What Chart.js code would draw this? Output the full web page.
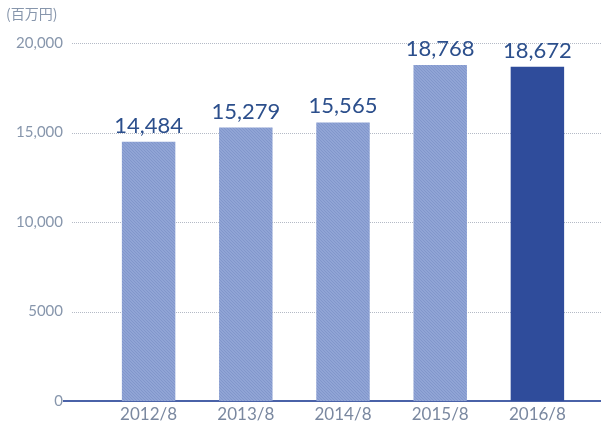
<!DOCTYPE html>
<html>
<head>
<meta charset="utf-8">
<script src="https://cdn.jsdelivr.net/npm/chart.js@4"></script>
<style>
  body { margin: 0; background: #fff; }
  #wrap { position: relative; width: 601px; height: 431px; }
  #unit { position: absolute; left: 6px; top: 3px; font: 14px "Noto Sans CJK JP", sans-serif; color: #8796ac; }
</style>
</head>
<body>
<div id="wrap">
  <canvas id="chart1" width="601" height="431"></canvas>
  <div id="unit">(百万円)</div>
</div>
<script>
var categories = ['2012/8', '2013/8', '2014/8', '2015/8', '2016/8'];
var sales = [14484, 15279, 15565, 18768, 18672];
var yTicks = [0, 5000, 10000, 15000, 20000];

// light hatched fill for the past years
function makePattern() {
    var c = document.createElement('canvas');
    c.width = 3; c.height = 3;
    var g = c.getContext('2d');
    g.fillStyle = '#90a4d5';
    g.fillRect(0, 0, 3, 3);
    g.fillStyle = '#8196cb';
    g.fillRect(0, 0, 1, 1);
    g.fillRect(1, 1, 1, 1);
    g.fillRect(2, 2, 1, 1);
    return g.createPattern(c, 'repeat');
}
var light = makePattern();
var colors = sales.map(function (v, i) { return i == sales.length - 1 ? '#2f4c9b' : light; });

function fmt(v) {
    if (v < 10000) return String(v);
    return v.toLocaleString('en-US');
}

var gridPlugin = {
    id: 'gridLines',
    beforeDatasetsDraw: function (chart) {
        var ctx = chart.ctx, y = chart.scales.y;
        ctx.save();
        yTicks.forEach(function (t) {
            var py = Math.round(y.getPixelForValue(t));
            ctx.beginPath();
            if (t == 0) {
                ctx.setLineDash([]);
                ctx.strokeStyle = '#4a62a8';
                ctx.lineWidth = 2;
                ctx.moveTo(63, py);
            } else {
                ctx.setLineDash([1, 1]);
                ctx.strokeStyle = '#b4bac6';
                ctx.lineWidth = 1;
                ctx.moveTo(72, py + 0.5);
                py += 0.5;
            }
            ctx.lineTo(601, py);
            ctx.stroke();
        });
        ctx.restore();
    }
};

var valuePlugin = {
    id: 'valueLabels',
    afterDatasetsDraw: function (chart) {
        var ctx = chart.ctx;
        var meta = chart.getDatasetMeta(0);
        ctx.save();
        ctx.font = '22px Lato';
        ctx.fillStyle = '#2c4f8c';
        ctx.textAlign = 'center';
        ctx.textBaseline = 'bottom';
        meta.data.forEach(function (bar, i) {
            ctx.fillText(fmt(sales[i]), bar.x, bar.y - 5);
        });
        ctx.restore();
    }
};

new Chart(document.getElementById('chart1'), {
    type: 'bar',
    data: {
        labels: categories,
        datasets: [{
            data: sales,
            backgroundColor: colors,
            categoryPercentage: 1,
            barPercentage: 0.55
        }]
    },
    options: {
        responsive: false,
        animation: false,
        layout: { padding: { top: 43, right: 15, bottom: 0, left: 0 } },
        plugins: { legend: { display: false }, tooltip: { enabled: false } },
        scales: {
            x: {
                afterFit: function (s) { s.height = 30; },
                grid: { display: false, drawTicks: false },
                border: { display: false },
                ticks: { color: '#7a88a0', font: { family: 'Lato', size: 17 }, padding: 3, maxRotation: 0 }
            },
            y: {
                min: 0, max: 20000,
                afterFit: function (s) { s.width = 100; s.paddingTop = 0; s.paddingBottom = 0; },
                afterBuildTicks: function (s) { s.ticks = yTicks.map(function (v) { return { value: v }; }); },
                grid: { display: false, drawTicks: false },
                border: { display: false },
                ticks: {
                    color: '#8796ac',
                    font: { family: 'Lato', size: 15 },
                    padding: 37,
                    callback: function (v) { return fmt(v); }
                }
            }
        }
    },
    plugins: [gridPlugin, valuePlugin]
});
</script>
</body>
</html>
